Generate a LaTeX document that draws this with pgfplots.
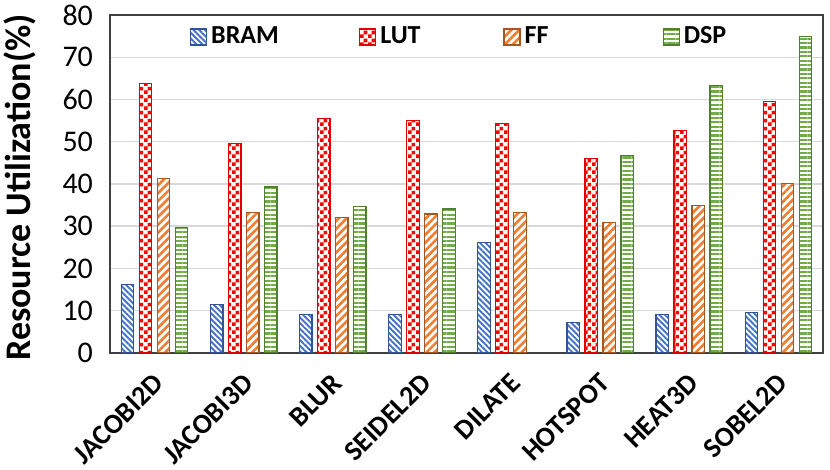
\documentclass[border=0pt]{standalone}
\usepackage{fontspec}
\setmainfont{Carlito}
\usepackage{pgfplots}
\pgfplotsset{compat=1.18}
\usetikzlibrary{patterns,patterns.meta}
\pgfdeclarepatternformonly{mychecker}{\pgfpointorigin}{\pgfpoint{4pt}{4pt}}{\pgfpoint{4pt}{4pt}}{%
  \pgfpathrectangle{\pgfpointorigin}{\pgfpoint{2pt}{2pt}}%
  \pgfpathrectangle{\pgfpoint{2pt}{2pt}}{\pgfpoint{2pt}{2pt}}%
  \pgfusepath{fill}}
\definecolor{bramc}{HTML}{4472C4}
\definecolor{bramb}{HTML}{2F5597}
\definecolor{lutc}{HTML}{FF0000}
\definecolor{lutb}{HTML}{E00000}
\definecolor{ffc}{HTML}{ED7D31}
\definecolor{ffb}{HTML}{A5571F}
\definecolor{dspc}{HTML}{70AD47}
\definecolor{dspb}{HTML}{507E32}
\definecolor{gridc}{HTML}{D9D9D9}
\definecolor{framec}{HTML}{404040}
\begin{document}
\begin{tikzpicture}
\begin{axis}[
  at={(55pt,58.5pt)}, anchor=south west,
  scale only axis, width=356.5pt, height=169pt,
  xmin=-0.5, xmax=7.5, ymin=0, ymax=80,
  ytick={0,10,...,80},
  xtick={0,...,7},
  xticklabels={JACOBI2D,JACOBI3D,BLUR,SEIDEL2D,DILATE,HOTSPOT,HEAT3D,SOBEL2D},
  major tick length=0pt,
  ymajorgrids, grid style={draw=gridc, line width=0.75pt},
  axis line style={draw=framec, line width=1pt},
  /pgf/number format/assume math mode=true,
  yticklabel style={font=\fontsize{15}{18}\selectfont, xshift=-5pt},
  xticklabel style={font=\bfseries\fontsize{14}{16}\selectfont, rotate=45, anchor=north east, xshift=-4pt, yshift=-2.5pt},
  ylabel={Resource Utilization(\%)},
  ylabel style={font=\bfseries\fontsize{18}{21}\selectfont, at={(axis description cs:-0.126,0.49)}, anchor=center, rotate=0},
  ybar, bar width=0.14,
  legend columns=4,
  legend style={draw=none, fill=none, at={(axis description cs:0.1122,0.935)}, anchor=west,
    font=\bfseries\fontsize{13}{15}\selectfont, inner sep=0pt, outer sep=0pt, /tikz/column sep=0pt},
  legend image code/.code={\draw[#1] (0pt,-4pt) rectangle (8pt,4pt);},
]
\addplot[bar shift=-0.303, draw=bramb, line width=0.6pt, preaction={fill=white},
  pattern={Lines[angle=-45,distance=2pt,line width=0.95pt]}, pattern color=bramc]
  coordinates {(0,16.3) (1,11.5) (2,9.2) (3,9.2) (4,26.2) (5,7.2) (6,9.2) (7,9.6)};
\addlegendentry{\makebox[72pt][l]{BRAM}}
\addplot[bar shift=-0.101, draw=lutb, line width=0.6pt, preaction={fill=white},
  pattern=mychecker, pattern color=lutc]
  coordinates {(0,63.8) (1,49.6) (2,55.5) (3,55.1) (4,54.3) (5,46.0) (6,52.7) (7,59.6)};
\addlegendentry{\makebox[59.5pt][l]{LUT}}
\addplot[bar shift=0.101, draw=ffb, line width=0.6pt, preaction={fill=white},
  pattern={Lines[angle=45,distance=2.8pt,line width=1.3pt]}, pattern color=ffc]
  coordinates {(0,41.3) (1,33.3) (2,32.1) (3,32.9) (4,33.2) (5,30.9) (6,34.9) (7,40.1)};
\addlegendentry{\makebox[67pt][l]{FF}}
\addplot[bar shift=0.303, draw=dspb, line width=0.6pt, preaction={fill=white},
  pattern={Lines[angle=0,distance=2.2pt,line width=1.1pt]}, pattern color=dspc]
  coordinates {(0,29.7) (1,39.3) (2,34.6) (3,34.1) (5,46.7) (6,63.4) (7,75.0)};
\addlegendentry{DSP}
\end{axis}
\pgfresetboundingbox
\useasboundingbox (0,0) rectangle (415pt,235pt);
\end{tikzpicture}
\end{document}
